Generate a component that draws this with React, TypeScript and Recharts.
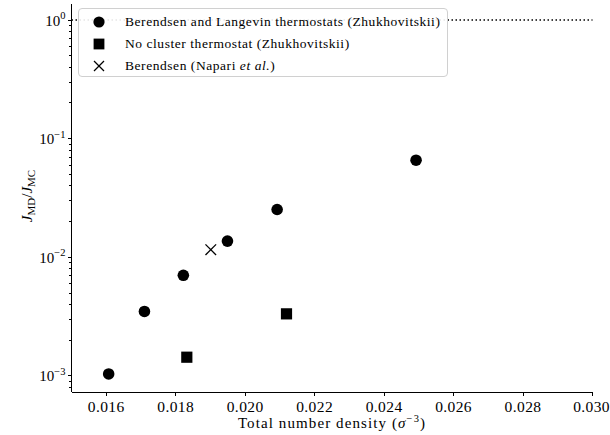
import React from 'react';
import { ScatterChart, Scatter, XAxis, YAxis, ReferenceLine } from 'recharts';

const circleDensity = [0.01607, 0.0171, 0.01822, 0.01949, 0.02092, 0.02492];
const circleRatio = [1.04e-3, 3.5e-3, 7.06e-3, 1.37e-2, 2.53e-2, 6.59e-2];
const squareDensity = [0.01832, 0.02119];
const squareRatio = [1.44e-3, 3.34e-3];
const crossDensity = [0.01901];
const crossRatio = [1.16e-2];

const seriesNames = [
  'Berendsen and Langevin thermostats (Zhukhovitskii)',
  'No cluster thermostat (Zhukhovitskii)',
  'Berendsen (Napari ',
];

const xTicks = [0.016, 0.018, 0.02, 0.022, 0.024, 0.026, 0.028, 0.03];
const yMajorTicks = [0.001, 0.01, 0.1, 1];
const yMinorTicks = [
  0.0008, 0.0009,
  0.002, 0.003, 0.004, 0.005, 0.006, 0.007, 0.008, 0.009,
  0.02, 0.03, 0.04, 0.05, 0.06, 0.07, 0.08, 0.09,
  0.2, 0.3, 0.4, 0.5, 0.6, 0.7, 0.8, 0.9,
];
const yDomain = [7.33e-4, 1.365];
const referenceRatio = 1;

const FONT = 'Liberation Serif, DejaVu Serif, serif';

const toPoints = (xs: number[], ys: number[]) => xs.map((x, i) => ({ x, y: ys[i] }));

const circleData = toPoints(circleDensity, circleRatio);
const squareData = toPoints(squareDensity, squareRatio);
const crossData = toPoints(crossDensity, crossRatio);

const CircleMark = ({ cx, cy }: any) => <circle cx={cx} cy={cy} r={5.8} fill="#000" />;
const SquareMark = ({ cx, cy }: any) => <rect x={cx - 5.6} y={cy - 5.6} width={11.2} height={11.2} fill="#000" />;
const CrossMark = ({ cx, cy }: any) => (
  <g stroke="#000" strokeWidth={1.3}>
    <line x1={cx - 5.3} y1={cy - 5.3} x2={cx + 5.3} y2={cy + 5.3} />
    <line x1={cx - 5.3} y1={cy + 5.3} x2={cx + 5.3} y2={cy - 5.3} />
  </g>
);

// short outward stub at the left spine, drawn for each minor log tick
const MinorTick = (props: any) => {
  const { x1, y1 } = props;
  return (
    <line x1={x1 - 2.6} x2={x1} y1={y1} y2={y1} stroke="#000" strokeWidth={1} shapeRendering="crispEdges" />
  );
};

const YTickLabel = (props: any) => {
  const { x, y, payload } = props;
  const exp = Math.round(Math.log10(payload.value));
  const expText = exp < 0 ? `\u2212${-exp}` : `${exp}`;
  return (
    <text x={x} y={y + 5.5} textAnchor="end" style={{ fontFamily: FONT }} fontSize={15} fill="#000">
      10<tspan dy={-6.5} fontSize={10.5}>{expText}</tspan>
    </text>
  );
};

const XLabel = ({ viewBox }: any) => {
  const cx = viewBox.x + viewBox.width / 2;
  return (
    <text x={cx} y={viewBox.y + 35.7} textAnchor="middle" style={{ fontFamily: FONT }} fontSize={15} fill="#000" letterSpacing={1.1}>
      Total number density (<tspan fontStyle="italic">σ</tspan>
      <tspan dy={-6} fontSize={10.5}>{'\u22123'}</tspan>
      <tspan dy={6}>)</tspan>
    </text>
  );
};

const YLabel = ({ viewBox }: any) => {
  const lx = viewBox.x + 32;
  const ly = viewBox.y + viewBox.height / 2 - 2;
  return (
    <text x={lx} y={ly} textAnchor="middle" transform={`rotate(-90 ${lx} ${ly})`} style={{ fontFamily: FONT }} fontSize={15} fill="#000">
      <tspan fontStyle="italic">J</tspan>
      <tspan dy={3} fontSize={11}>MD</tspan>
      <tspan dy={-3}>/</tspan>
      <tspan fontStyle="italic">J</tspan>
      <tspan dy={3} fontSize={11}>MC</tspan>
    </text>
  );
};

const LegendIcon = ({ kind }: { kind: number }) => (
  <svg width={14} height={14} style={{ display: 'block' }}>
    {kind === 0 && <circle cx={7} cy={7} r={5.6} fill="#000" />}
    {kind === 1 && <rect x={1.6} y={1.6} width={10.8} height={10.8} fill="#000" />}
    {kind === 2 && (
      <g stroke="#000" strokeWidth={1.3}>
        <line x1={2} y1={2} x2={12} y2={12} />
        <line x1={2} y1={12} x2={12} y2={2} />
      </g>
    )}
  </svg>
);

const LegendBox = () => (
  <div
    style={{
      position: 'absolute',
      left: 78,
      top: 8,
      width: 370,
      height: 69,
      boxSizing: 'border-box',
      border: '1px solid #d0d0d0',
      borderRadius: 4,
      background: 'rgba(255,255,255,0.9)',
      paddingTop: 2,
      fontFamily: FONT,
      fontSize: 13.5,
      letterSpacing: 0.55,
      color: '#000',
    }}
  >
    {seriesNames.map((name, i) => (
      <div key={name} style={{ display: 'flex', alignItems: 'center', height: 22 }}>
        <div style={{ width: 46, display: 'flex', justifyContent: 'center' }}>
          <div style={{ marginLeft: -6 }}>
            <LegendIcon kind={i} />
          </div>
        </div>
        <span style={{ whiteSpace: 'nowrap' }}>
          {name}
          {i === 2 && (
            <>
              <i>et al.</i>)
            </>
          )}
        </span>
      </div>
    ))}
  </div>
);

const crisp = { stroke: '#000', strokeWidth: 1, shapeRendering: 'crispEdges' };

export default function App() {
  return (
    <div style={{ position: 'absolute', left: 0, top: 0, width: 610, height: 435, background: '#fff', fontFamily: FONT }}>
      <ScatterChart width={610} height={435} margin={{ top: 4, right: 17.5, bottom: 0, left: 0 }} style={{ fontFamily: FONT }}>
        <XAxis
          dataKey="x"
          type="number"
          domain={[0.015, 0.03]}
          ticks={xTicks}
          tickFormatter={(v: number) => v.toFixed(3)}
          height={43}
          tickSize={4}
          tickMargin={4.7}
          stroke="#000"
          axisLine={crisp}
          tickLine={crisp}
          tick={{ fill: '#000', fontSize: 15.5, fontFamily: FONT, letterSpacing: 0.4 }}
          allowDataOverflow
          label={{ content: XLabel }}
        />
        <XAxis
          xAxisId="top"
          orientation="top"
          type="number"
          domain={[0, 1]}
          height={0}
          tick={false}
          tickLine={false}
          axisLine={crisp}
        />
        <YAxis
          yAxisId="main"
          dataKey="y"
          type="number"
          scale="log"
          domain={yDomain}
          ticks={yMajorTicks}
          width={71.5}
          tickSize={4}
          tickMargin={2}
          tickLine={crisp}
          axisLine={crisp}
          tick={YTickLabel}
          interval={0}
          allowDataOverflow
          label={{ content: YLabel }}
        />
        <YAxis
          yAxisId="right"
          orientation="right"
          type="number"
          domain={[0, 1]}
          width={0}
          tick={false}
          tickLine={false}
          axisLine={crisp}
        />
        {yMinorTicks.map((v) => (
          <ReferenceLine key={v} yAxisId="main" y={v} ifOverflow="visible" shape={MinorTick} />
        ))}
        <ReferenceLine yAxisId="main" y={referenceRatio} stroke="#000" strokeWidth={1.5} strokeDasharray="1.5 2.5" />
        <Scatter yAxisId="main" name={seriesNames[0]} data={circleData} shape={CircleMark} isAnimationActive={false} />
        <Scatter yAxisId="main" name={seriesNames[1]} data={squareData} shape={SquareMark} isAnimationActive={false} />
        <Scatter yAxisId="main" name={seriesNames[2]} data={crossData} shape={CrossMark} isAnimationActive={false} />
      </ScatterChart>
      <LegendBox />
    </div>
  );
}
